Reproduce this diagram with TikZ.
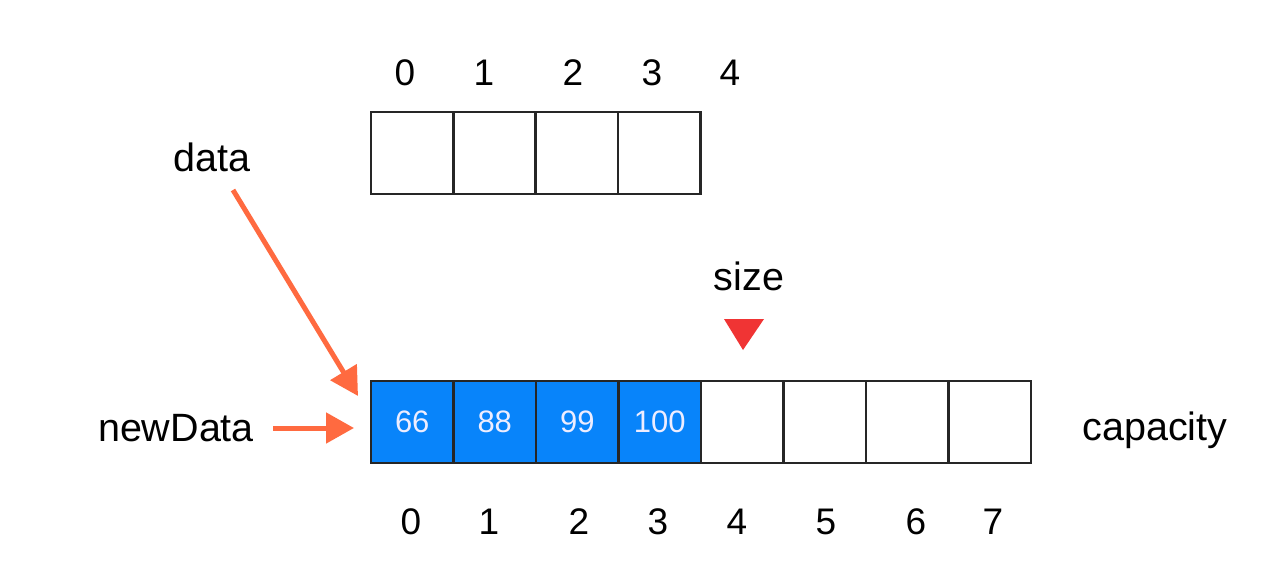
\documentclass[tikz,border=0pt]{standalone}
\usepackage{fontspec}
\setmainfont{Liberation Sans}
\usetikzlibrary{arrows.meta}
\definecolor{cellblue}{RGB}{8,132,250}
\definecolor{arroworange}{RGB}{255,106,64}
\definecolor{sizered}{RGB}{240,52,52}
\tikzset{
  cell/.style={draw=black!85, line width=2.6pt, minimum width=82.5pt, minimum height=82pt, inner sep=0pt, outer sep=0pt},
  fullcell/.style={cell, fill=cellblue, text=white!93!blue, font=\fontsize{31}{33}\selectfont},
  idx/.style={font=\fontsize{37}{39}\selectfont, inner sep=0pt},
  lbl/.style={font=\fontsize{39.5}{41}\selectfont, inner sep=0pt},
  ptr/.style={draw=arroworange, line width=5pt, -{Triangle[length=28pt,width=30pt]}},
}
\begin{document}
\begin{tikzpicture}[x=1pt,y=-1pt]
\useasboundingbox[fill=white] (0,0) rectangle (1270,565);
% top array
\foreach \i in {0,1,2,3} {
  \node[cell, anchor=north west] (t\i) at ({371+82.3*\i},112) {};
}
\node[idx] (ti0) at (405,73) {0};
\node[idx] (ti1) at (484,73) {1};
\node[idx] (ti2) at (573,73) {2};
\node[idx] (ti3) at (652,73) {3};
\node[idx] (ti4) at (730,73) {4};
% bottom array
\node[fullcell, anchor=north west] (b0) at (371,381) {66};
\node[fullcell, anchor=north west] (b1) at (453.5,381) {88};
\node[fullcell, anchor=north west] (b2) at (536,381) {99};
\node[fullcell, anchor=north west] (b3) at (618.5,381) {100};
\foreach \i in {4,5,6,7} {
  \node[cell, anchor=north west] (b\i) at ({371+82.5*\i},381) {};
}
\node[idx] (bi0) at (411,522) {0};
\node[idx] (bi1) at (489,522) {1};
\node[idx] (bi2) at (579,522) {2};
\node[idx] (bi3) at (658,522) {3};
\node[idx] (bi4) at (737,522) {4};
\node[idx] (bi5) at (826,522) {5};
\node[idx] (bi6) at (916,522) {6};
\node[idx] (bi7) at (993,522) {7};
% labels
\node[lbl] (data) at (212,157) {data};
\node[lbl] (newdata) at (176,428) {newData};
\node[lbl] (capacity) at (1155,430) {capacity};
\node[lbl] (size) at (749,276) {size};
% size marker
\fill[sizered] (724,319) -- (764,319) -- (743,350) -- cycle;
% pointers
\coordinate (dataS) at (233,190);
\coordinate (dataE) at (358,396);
\coordinate (ndS) at (273,428);
\coordinate (ndE) at (354,428);
\draw[ptr] (dataS) -- (dataE);
\draw[ptr] (ndS) -- (ndE);
\end{tikzpicture}
\end{document}
